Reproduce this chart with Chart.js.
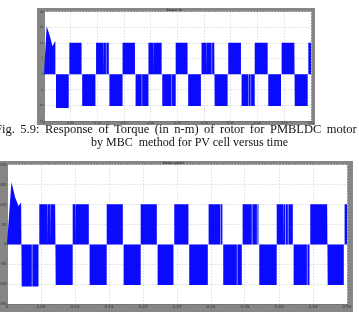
<!DOCTYPE html>
<html>
<head>
<meta charset="utf-8">
<script src="https://cdn.jsdelivr.net/npm/chart.js@4.4.1/dist/chart.umd.min.js"></script>
<style>
  html, body { margin: 0; padding: 0; background: #fff; }
  body { width: 359px; height: 312px; position: relative; overflow: hidden; }
  canvas { position: absolute; background: #868686; }
  #top { left: 37px; top: 8px; }
  #bot { left: 0px; top: 161px; }
  .cap {
    position: absolute; white-space: pre; color: #141414;
    font-family: "Liberation Serif", "Times New Roman", serif; font-size: 12px; line-height: 13px;
  }
</style>
</head>
<body>
<canvas id="top" width="278" height="117"></canvas>
<div class="cap" style="left:-5px;top:123px;font-size:12.5px;word-spacing:2.4px">Fig. 5.9: Response of Torque (in n-m) of rotor for PMBLDC motor</div>
<div class="cap" style="left:91px;top:135.5px">by MBC  method for PV cell versus time</div>
<canvas id="bot" width="353" height="151"></canvas>
<script>
// ── data (time in s) ──────────────────────────────────────
const X_TICKS = { min: 0, max: 0.5, step: 0.05 };

// upper scope: torque
const topY = { min: -15, max: 20, step: 5 };
const topStartT = [0, 0.005, 0.011, 0.016, 0.0205];
const topStartV = [0, 15.5, 12.2, 9, 10.5];
const topSwitch = [0.0225, 0.0475, 0.0715, 0.0975, 0.1225, 0.1475, 0.1715, 0.196, 0.2215, 0.247,
  0.27, 0.295, 0.32, 0.345, 0.37, 0.395, 0.42, 0.445, 0.47, 0.495];
const topLevels = [-10.8, 10.1, -10.2, 10.1, -10.2, 10.1, -10.2, 10.1, -10.2, 10.1,
  -10.2, 10.1, -10.2, 10.1, -10.2, 10.1, -10.2, 10.1, -10.2, 10.1];
const topDrops = [0.111, 0.116, 0.183, 0.1875, 0.205, 0.236, 0.239, 0.3035, 0.314, 0.382, 0.387, 0.4855];

// lower scope
const botY = { min: -150, max: 200, step: 50 };
const botStartT = [0, 0.0065, 0.012, 0.017, 0.0205];
const botStartV = [0, 157, 118, 97, 105];
const botSwitch = [0.022, 0.0475, 0.072, 0.097, 0.1215, 0.147, 0.1715, 0.197, 0.2215, 0.246,
  0.268, 0.2965, 0.318, 0.3465, 0.371, 0.397, 0.4215, 0.446, 0.472, 0.4965];
const botLevels = [-106, 101, -102, 101, -102, 101, -102, 101, -102, 101,
  -102, 101, -102, 101, -102, 101, -102, 101, -102, 101];
const botDrops = [0.033, 0.0365, 0.059, 0.0635, 0.1005, 0.178, 0.1815, 0.314, 0.338, 0.36, 0.3675,
  0.406, 0.4095, 0.413, 0.4385, 0.441];

// ── build the switching waveform as points ────────────────
const GAP = 0.0012;
const DROP_W = 0.0008;

function buildWave(startT, startV, switches, levels, drops, tEnd) {
  const pts = startT.map((t, i) => ({ x: t, y: startV[i] }));
  const first = switches[0] - GAP;
  pts.push({ x: first, y: startV[startV.length - 1] }, { x: first, y: 0 });
  switches.forEach((a, i) => {
    const b = i + 1 < switches.length ? switches[i + 1] - GAP : tEnd;
    const L = levels[i];
    pts.push({ x: a, y: 0 }, { x: a, y: L });
    drops.filter((d) => d > a && d < b).forEach((d) => {
      pts.push({ x: d, y: L }, { x: d, y: 0 }, { x: d + DROP_W, y: 0 }, { x: d + DROP_W, y: L });
    });
    pts.push({ x: b, y: L }, { x: b, y: 0 });
  });
  return pts;
}

const whiteArea = {
  id: "whiteArea",
  beforeDraw(chart) {
    const { ctx, chartArea: a } = chart;
    ctx.save();
    ctx.fillStyle = "#ffffff";
    ctx.fillRect(a.left, a.top, a.right - a.left, a.bottom - a.top);
    ctx.restore();
  },
};

function scope(el, cfg) {
  return new Chart(document.getElementById(el), {
    type: "line",
    data: {
      datasets: [
        {
          data: buildWave(cfg.startT, cfg.startV, cfg.switches, cfg.levels, cfg.drops, X_TICKS.max),
          borderColor: "rgba(0,0,0,0)",
          borderWidth: 0,
          backgroundColor: "#0a0aff",
          fill: "origin",
          pointRadius: 0,
          tension: 0,
        },
      ],
    },
    options: {
      responsive: false,
      animation: false,
      events: [],
      layout: { padding: { top: 0, right: cfg.padRight, bottom: 0, left: 0 } },
      plugins: {
        legend: { display: false },
        tooltip: { enabled: false },
        title: {
          display: true,
          text: cfg.title,
          color: "#3a3a3a",
          font: { size: 3, family: "DejaVu Sans" },
          padding: { top: 0.3, bottom: 0.1 },
        },
      },
      scales: {
        x: {
          type: "linear",
          min: X_TICKS.min,
          max: X_TICKS.max,
          afterFit: (s) => { s.height = cfg.xBand; },
          ticks: { stepSize: X_TICKS.step, color: "#303030", font: { size: cfg.tickFont, family: "DejaVu Sans" }, padding: 0.5, maxRotation: 0 },
          grid: { color: "#d6d6d6", lineWidth: 0.8, drawTicks: false },
          border: { color: "#6a6a6a", width: 0.8, dash: [1.5, 1.5] },
        },
        y: {
          min: cfg.y.min,
          max: cfg.y.max,
          afterFit: (s) => { s.width = cfg.yBand; },
          ticks: { stepSize: cfg.y.step, color: "#303030", font: { size: cfg.tickFont, family: "DejaVu Sans" }, padding: 0.5 },
          grid: { color: "#d6d6d6", lineWidth: 0.8, drawTicks: false },
          border: { color: "#6a6a6a", width: 0.8, dash: [1.5, 1.5] },
        },
      },
    },
    plugins: [whiteArea],
  });
}

scope("top", {
  title: "Torque Te", startT: topStartT, startV: topStartV, switches: topSwitch, levels: topLevels,
  drops: topDrops, y: topY, xBand: 4, yBand: 7, padRight: 4, tickFont: 3,
});
scope("bot", {
  title: "Rotor speed", startT: botStartT, startV: botStartV, switches: botSwitch, levels: botLevels,
  drops: botDrops, y: botY, xBand: 8, yBand: 7, padRight: 6, tickFont: 4,
});
</script>
</body>
</html>
